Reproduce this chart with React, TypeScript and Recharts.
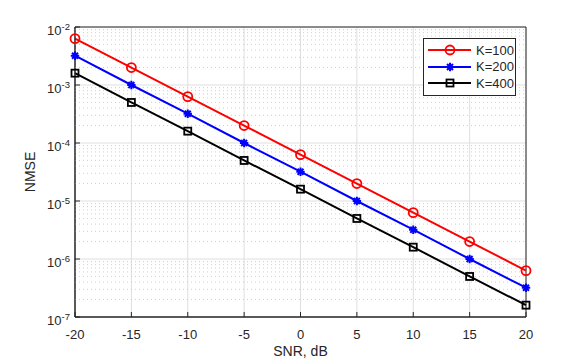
import React from 'react';
import {
  LineChart,
  Line,
  XAxis,
  YAxis,
  CartesianGrid,
  ReferenceLine,
  ReferenceArea,
  Legend,
} from 'recharts';

const snr = [-20, -15, -10, -5, 0, 5, 10, 15, 20];
const nmseK100 = [6.3e-3, 2.0e-3, 6.3e-4, 2.0e-4, 6.3e-5, 2.0e-5, 6.3e-6, 2.0e-6, 6.3e-7];
const nmseK200 = [3.2e-3, 1.0e-3, 3.2e-4, 1.0e-4, 3.2e-5, 1.0e-5, 3.2e-6, 1.0e-6, 3.2e-7];
const nmseK400 = [1.6e-3, 5.0e-4, 1.6e-4, 5.0e-5, 1.6e-5, 5.0e-6, 1.6e-6, 5.0e-7, 1.6e-7];

const xTicks = [-20, -15, -10, -5, 0, 5, 10, 15, 20];
const yExponents = [-7, -6, -5, -4, -3, -2];
const minorMantissas = [2, 3, 4, 5, 6, 7, 8, 9];

const data = snr.map((s, i) => ({
  snr: s,
  k100: nmseK100[i],
  k200: nmseK200[i],
  k400: nmseK400[i],
}));

const yTicks = yExponents.map((e) => Math.pow(10, e));
const minorValues: number[] = [];
yExponents.slice(0, -1).forEach((e) => {
  minorMantissas.forEach((m) => minorValues.push(m * Math.pow(10, e)));
});

const AXIS = '#262626';
const FONT = 'Liberation Sans, Arial, Helvetica, sans-serif';

const series = [
  { key: 'k100', name: 'K=100', color: '#ff0000', marker: 'circle' },
  { key: 'k200', name: 'K=200', color: '#0000ff', marker: 'star' },
  { key: 'k400', name: 'K=400', color: '#000000', marker: 'square' },
];

const Marker = ({ cx, cy, kind, color }: any) => {
  if (cx == null || cy == null) return null;
  if (kind === 'circle') {
    return <circle cx={cx} cy={cy} r={4.5} fill="none" stroke={color} strokeWidth={1.8} />;
  }
  if (kind === 'square') {
    return <rect x={cx - 3.5} y={cy - 3.5} width={7} height={7} fill="none" stroke={color} strokeWidth={1.8} />;
  }
  // asterisk
  const r = 4.2;
  const lines = [0, 45, 90, 135].map((a) => {
    const rad = (a * Math.PI) / 180;
    return (
      <line
        key={a}
        x1={cx - r * Math.cos(rad)}
        y1={cy - r * Math.sin(rad)}
        x2={cx + r * Math.cos(rad)}
        y2={cy + r * Math.sin(rad)}
        stroke={color}
        strokeWidth={2}
      />
    );
  });
  return (
    <g>
      <circle cx={cx} cy={cy} r={2.5} fill={color} />
      {lines}
    </g>
  );
};

const YTick = ({ x, y, payload }: any) => {
  const exp = Math.round(Math.log10(payload.value));
  return (
    <text x={x} y={y + 8} textAnchor="end" fill={AXIS} fontFamily={FONT} fontSize={13}>
      <tspan>10</tspan>
      <tspan dy={-5.5} fontSize={9.5}>
        {exp}
      </tspan>
    </text>
  );
};

const LegendBox = () => (
  <div
    style={{
      border: `1px solid ${AXIS}`,
      background: '#fff',
      width: 93,
      padding: '3px 0',
      boxSizing: 'border-box',
    }}
  >
    {series.map((s) => (
      <div key={s.key} style={{ display: 'flex', alignItems: 'center', height: 16.5 }}>
        <svg width={48} height={16} style={{ marginLeft: 3 }}>
          <line x1={1} y1={8} x2={44} y2={8} stroke={s.color} strokeWidth={2} />
          <Marker cx={23} cy={8} kind={s.marker} color={s.color} />
        </svg>
        <span style={{ fontFamily: FONT, fontSize: 13, color: AXIS, marginLeft: 1 }}>{s.name}</span>
      </div>
    ))}
  </div>
);

export default function App() {
  return (
    <div style={{ position: 'absolute', left: 0, top: 0, background: '#fff' }}>
      <LineChart width={581} height={363} data={data} margin={{ top: 27, right: 55, left: 0, bottom: 0 }}>
        <CartesianGrid stroke="#dfdfdf" strokeWidth={1} vertical horizontal />
        {minorValues.map((v) => (
          <ReferenceLine key={v} y={v} stroke="#cfcfcf" strokeDasharray="1 3" strokeWidth={1} />
        ))}
        <XAxis
          dataKey="snr"
          type="number"
          domain={[-20, 20]}
          ticks={xTicks}
          height={46}
          stroke={AXIS}
          tickSize={-5}
          tickMargin={18}
          tick={{ fill: AXIS, fontFamily: FONT, fontSize: 13 }}
          label={(props: any) => {
            const vb = props.viewBox;
            return (
              <text x={vb.x + vb.width / 2} y={356} textAnchor="middle" fill={AXIS} fontFamily={FONT} fontSize={14}>
                SNR, dB
              </text>
            );
          }}
        />
        <YAxis
          type="number"
          scale="log"
          domain={[1e-7, 1e-2]}
          ticks={yTicks}
          allowDataOverflow
          width={75}
          stroke={AXIS}
          tickSize={-5}
          tickMargin={10}
          tick={<YTick />}
          label={(props: any) => {
            const vb = props.viewBox;
            const cy = vb.y + vb.height / 2;
            return (
              <text
                x={30}
                y={cy}
                textAnchor="middle"
                dominantBaseline="central"
                transform={`rotate(-90, 30, ${cy})`}
                fill={AXIS}
                fontFamily={FONT}
                fontSize={14}
              >
                NMSE
              </text>
            );
          }}
        />
        <ReferenceArea x1={-20} x2={20} y1={1e-7} y2={1e-2} fill="none" stroke={AXIS} strokeWidth={1} />
        {series.map((s) => (
          <Line
            key={s.key}
            dataKey={s.key}
            name={s.name}
            stroke={s.color}
            strokeWidth={2}
            isAnimationActive={false}
            dot={(p: any) => <Marker key={`${s.key}-${p.index}`} cx={p.cx} cy={p.cy} kind={s.marker} color={s.color} />}
          />
        ))}
        <Legend
          layout="vertical"
          verticalAlign="middle"
          align="center"
          content={() => <LegendBox />}
          wrapperStyle={{ position: 'absolute', left: 423, top: 38, width: 93 }}
        />
      </LineChart>
    </div>
  );
}
